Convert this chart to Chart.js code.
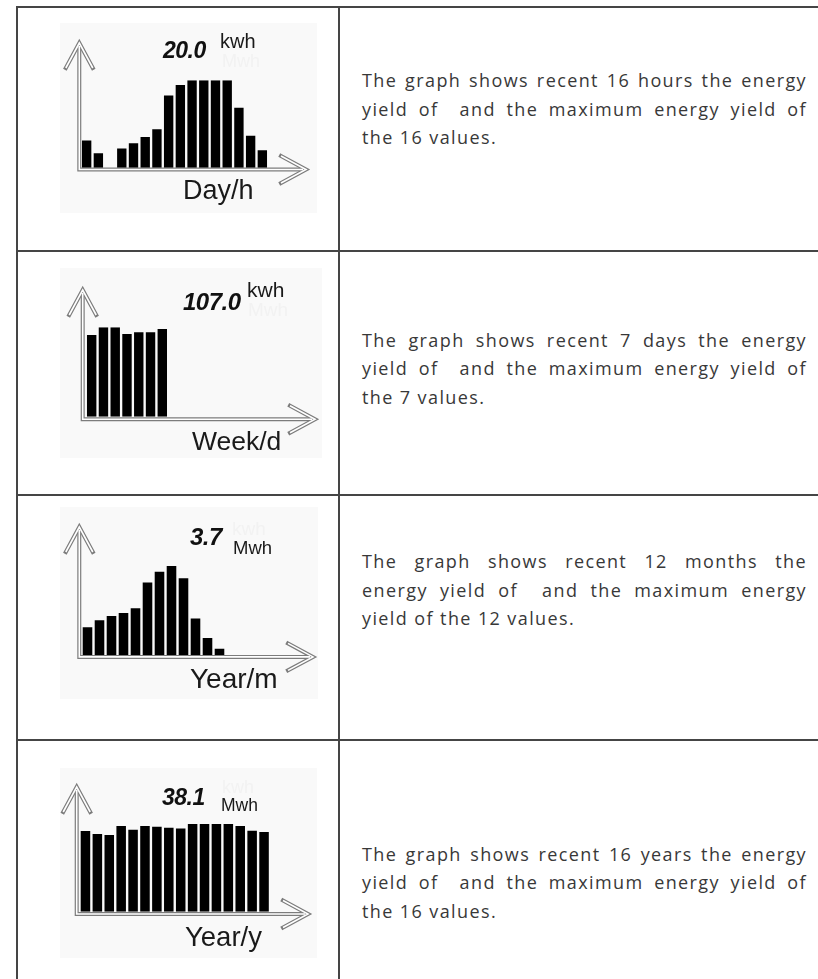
<!DOCTYPE html>
<html>
<head>
<meta charset="utf-8">
<script src="https://cdn.jsdelivr.net/npm/chart.js@4.4.1/dist/chart.umd.min.js"></script>
<style>
  html, body { margin: 0; padding: 0; background: #fff; }
  #page { position: relative; width: 818px; height: 979px; overflow: hidden; background: #fff; }
  .rule { position: absolute; background: #454545; }
  .lcd { position: absolute; background: #f9f9f9; }
  .lcd canvas { position: absolute; left: 0; top: 0; }
  .t { position: absolute; white-space: nowrap; line-height: 1; font-family: "Liberation Sans", Arial, sans-serif; }
  .val { font-weight: bold; font-style: italic; color: #111; letter-spacing: -0.5px; }
  .unit { color: #1a1a1a; }
  .ghost { color: #f2f2f2; }
  .axname { color: #1a1a1a; }
  .desc { position: absolute; left: 362px; width: 445px; font-family: "Open Sans", sans-serif;
          font-size: 18px; letter-spacing: 1.4px; line-height: 28.7px; color: #383838; }
  .desc .j { text-align: justify; text-align-last: justify; }
</style>
</head>
<body>
<div id="page">
  <!-- table rules -->
  <div class="rule" style="left:16px;top:6px;width:802px;height:2px"></div>
  <div class="rule" style="left:16px;top:6px;width:2px;height:973px"></div>
  <div class="rule" style="left:338px;top:6px;width:2px;height:973px"></div>
  <div class="rule" style="left:16px;top:250px;width:802px;height:2px"></div>
  <div class="rule" style="left:16px;top:494px;width:802px;height:2px"></div>
  <div class="rule" style="left:16px;top:739px;width:802px;height:2px"></div>

  <!-- LCD panels -->
  <div class="lcd" style="left:60px;top:23px;width:257px;height:190px"><canvas id="lcdDay" width="257" height="190"></canvas></div>
  <div class="lcd" style="left:60px;top:268px;width:262px;height:190px"><canvas id="lcdWeek" width="262" height="190"></canvas></div>
  <div class="lcd" style="left:60px;top:507px;width:258px;height:192px"><canvas id="lcdMonth" width="258" height="192"></canvas></div>
  <div class="lcd" style="left:60px;top:768px;width:257px;height:190px"><canvas id="lcdYear" width="257" height="190"></canvas></div>

  <!-- LCD readouts -->
  <span class="t val"   id="val0"  style="left:163px;top:38.8px;font-size:23px"></span>
  <span class="t unit"  id="unit0" style="left:220px;top:31.4px;font-size:20px"></span>
  <span class="t ghost" id="gh0"   style="left:222px;top:51.8px;font-size:18px"></span>
  <span class="t axname" id="ax0"  style="left:183px;top:177.1px;font-size:27px"></span>

  <span class="t val"   id="val1"  style="left:183px;top:289.7px;font-size:24px"></span>
  <span class="t unit"  id="unit1" style="left:247px;top:278.9px;font-size:21px"></span>
  <span class="t ghost" id="gh1"   style="left:248px;top:299.9px;font-size:19px"></span>
  <span class="t axname" id="ax1"  style="left:192px;top:427.6px;font-size:26.5px"></span>

  <span class="t val"   id="val2"  style="left:190px;top:524.7px;font-size:24px"></span>
  <span class="t unit"  id="unit2" style="left:233px;top:539.3px;font-size:18.5px"></span>
  <span class="t ghost" id="gh2"   style="left:232px;top:518.9px;font-size:19px"></span>
  <span class="t axname" id="ax2"  style="left:190px;top:664.6px;font-size:28px"></span>

  <span class="t val"   id="val3"  style="left:162px;top:785.5px;font-size:23px"></span>
  <span class="t unit"  id="unit3" style="left:221px;top:796.9px;font-size:17.5px"></span>
  <span class="t ghost" id="gh3"   style="left:222px;top:777.8px;font-size:18px"></span>
  <span class="t axname" id="ax3"  style="left:185px;top:923.4px;font-size:27.5px"></span>

  <!-- descriptions -->
  <div class="desc" id="desc0" style="top:66px"></div>
  <div class="desc" id="desc1" style="top:325.5px"></div>
  <div class="desc" id="desc2" style="top:547px"></div>
  <div class="desc" id="desc3" style="top:839.5px"></div>
</div>

<script>
// Energy yield per slot, oldest first
const dayValues   = [6.2, 3.3, 0, 4.4, 5.6, 7.0, 8.8, 16.5, 18.9, 20.0, 20.0, 20.0, 20.0, 13.7, 7.3, 4.0]; // kWh per hour
const weekValues  = [97.8, 107.0, 107.0, 99.0, 101.0, 101.0, 105.0];                                      // kWh per day
const monthValues = [1.15, 1.44, 1.62, 1.75, 1.94, 3.01, 3.46, 3.70, 3.19, 1.52, 0.71, 0.26];            // MWh per month
const yearValues  = [35.1, 33.8, 33.3, 37.2, 35.6, 37.2, 36.9, 36.5, 36.1, 38.1, 38.1, 38.1, 38.1, 37.2, 35.2, 34.6]; // MWh per year

// Axis captions and units shown on the display
const axisNames  = ['Day/h', 'Week/d', 'Year/m', 'Year/y'];
const unitLabels = ['kwh', 'kwh', 'Mwh', 'Mwh'];
const dimLabels  = ['Mwh', 'Mwh', 'kwh', 'kwh'];   // unlit unit segment

// Descriptions, one entry per line
const descLines = [
  ['The graph shows recent 16 hours the energy', 'yield of\u00a0 and the maximum energy yield of', 'the 16 values.'],
  ['The graph shows recent 7 days the energy',   'yield of\u00a0 and the maximum energy yield of', 'the 7 values.'],
  ['The graph shows recent 12 months the',       'energy yield of\u00a0 and the maximum energy',   'yield of the 12 values.'],
  ['The graph shows recent 16 years the energy', 'yield of\u00a0 and the maximum energy yield of', 'the 16 values.']
];

// The display always has 16 bar slots
const SLOTS = 16;

// Double-line axes with hollow arrow heads, placed from the chart area
const lcdAxes = {
  id: 'lcdAxes',
  beforeDatasetsDraw(chart, args, o) {
    const { ctx, chartArea: a, scales: { y } } = chart;
    const ox = a.left - o.gapX;
    const oy = y.getPixelForValue(0) + o.gapY;
    const tipY = a.top - o.rise;
    const tipX = a.right + o.run;
    const W = 13.5, L = 25;
    const paths = [
      [[ox, tipY + 3], [ox, oy], [tipX - 3, oy]],
      [[ox - W, tipY + L], [ox, tipY], [ox + W, tipY + L]],
      [[tipX - L, oy - W], [tipX, oy], [tipX - L, oy + W]]
    ];
    const pass = (color, width, cap) => {
      ctx.strokeStyle = color; ctx.lineWidth = width; ctx.lineCap = cap; ctx.lineJoin = 'miter';
      paths.forEach(p => {
        ctx.beginPath();
        p.forEach(([px, py], i) => i ? ctx.lineTo(px, py) : ctx.moveTo(px, py));
        ctx.stroke();
      });
    };
    ctx.save();
    pass('#7c7c7c', 4, 'square');
    pass('#ffffff', 1.6, 'butt');
    ctx.restore();
  }
};

function lcdChart(id, values, pad, axes) {
  const top = Math.max(...values);
  return new Chart(document.getElementById(id), {
    type: 'bar',
    data: {
      datasets: [{
        data: values.map((v, i) => ({ x: i, y: v })),
        backgroundColor: '#000',
        borderWidth: 0,
        categoryPercentage: 0.8,
        barPercentage: 1
      }]
    },
    options: {
      responsive: false,
      animation: false,
      devicePixelRatio: 1,
      layout: { padding: pad },
      plugins: { legend: { display: false }, tooltip: { enabled: false }, lcdAxes: axes },
      scales: {
        x: { type: 'linear', min: -0.5, max: SLOTS - 0.5, offset: false, display: false },
        y: { min: 0, max: top, display: false }
      }
    },
    plugins: [lcdAxes]
  });
}

const series = [dayValues, weekValues, monthValues, yearValues];

lcdChart('lcdDay',   dayValues,   { left: 20.8, right: 48.8, top: 57.3, bottom: 45.3 }, { gapX: 1.5, gapY: 1.8, rise: 37.3, run: 37.8 });
lcdChart('lcdWeek',  weekValues,  { left: 25.8, right: 47.9, top: 59.3, bottom: 41.3 }, { gapX: 3.1, gapY: 2.6, rise: 37.3, run: 40.9 });
lcdChart('lcdMonth', monthValues, { left: 21.5, right: 44.5, top: 59,   bottom: 44   }, { gapX: 2.2, gapY: 1.9, rise: 39,   run: 39.5 });
lcdChart('lcdYear',  yearValues,  { left: 19.5, right: 47,   top: 56,   bottom: 46.3 }, { gapX: 2.8, gapY: 2.3, rise: 37,   run: 38 });

series.forEach((vals, k) => {
  document.getElementById('val' + k).textContent = Math.max(...vals).toFixed(1);
  document.getElementById('unit' + k).textContent = unitLabels[k];
  document.getElementById('gh' + k).textContent = dimLabels[k];
  document.getElementById('ax' + k).textContent = axisNames[k];
  const box = document.getElementById('desc' + k);
  descLines[k].forEach((line, i, all) => {
    const d = document.createElement('div');
    if (i < all.length - 1) d.className = 'j';
    d.textContent = line;
    box.appendChild(d);
  });
});
</script>
</body>
</html>
